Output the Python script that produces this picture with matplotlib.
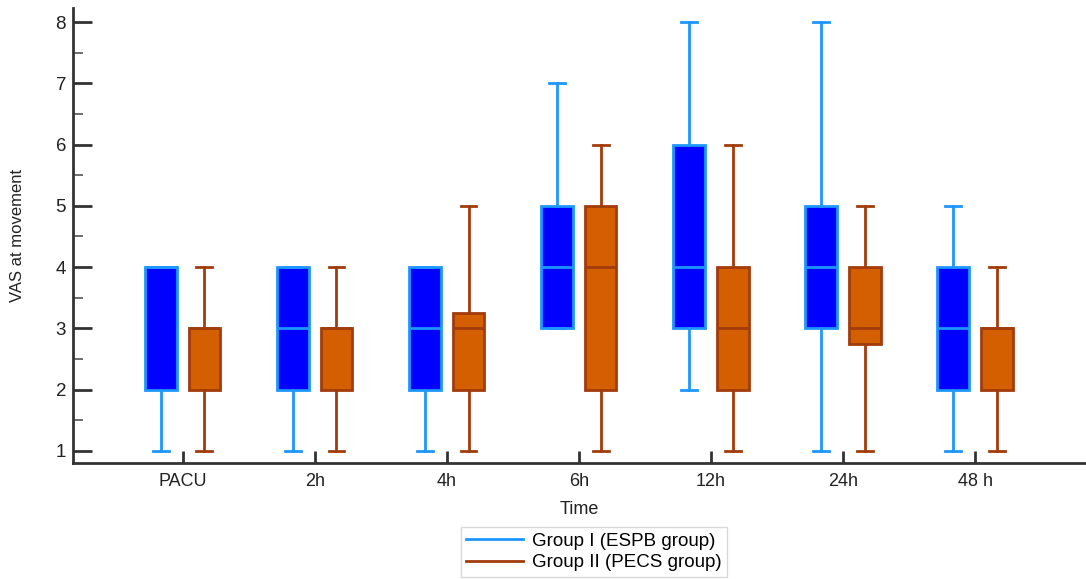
import numpy as np
import matplotlib.pyplot as plt
from matplotlib.lines import Line2D

plt.rcParams['font.family'] = ['Liberation Sans', 'DejaVu Sans']

# ---------- data
times = ['PACU', '2h', '4h', '6h', '12h', '24h', '48 h']

# whislo, q1, median, q3, whishi
espb_low = [1, 1, 1, 3, 2, 1, 1]
espb_q1 = [2, 2, 2, 3, 3, 3, 2]
espb_med = [4, 3, 3, 4, 4, 4, 3]
espb_q3 = [4, 4, 4, 5, 6, 5, 4]
espb_high = [4, 4, 4, 7, 8, 8, 5]

pecs_low = [1, 1, 1, 1, 1, 1, 1]
pecs_q1 = [2, 2, 2, 2, 2, 2.75, 2]
pecs_med = [3, 3, 3, 4, 3, 3, 3]
pecs_q3 = [3, 3, 3.25, 5, 4, 4, 3]
pecs_high = [4, 4, 5, 6, 6, 5, 4]

blue_fill, blue_edge = '#0000ff', '#1e96ff'
org_fill, org_edge = '#d45f00', '#a23c0c'


def make_stats(lo, q1, med, q3, hi):
    return [dict(whislo=a, q1=b, med=c, q3=d, whishi=e, fliers=[])
            for a, b, c, d, e in zip(lo, q1, med, q3, hi)]


fig = plt.figure(figsize=(10.86, 5.79), dpi=100)
ax = fig.add_axes([73 / 1086, 116 / 579, 1 - 73 / 1086, (463 - 8) / 579])

pos = np.arange(len(times))
off = 0.165
w = 0.24

for stats, p, fc, ec in [
        (make_stats(espb_low, espb_q1, espb_med, espb_q3, espb_high), pos - off, blue_fill, blue_edge),
        (make_stats(pecs_low, pecs_q1, pecs_med, pecs_q3, pecs_high), pos + off, org_fill, org_edge)]:
    ax.bxp(stats, positions=p, widths=w, capwidths=w / 2, patch_artist=True,
           showfliers=False, manage_ticks=False,
           boxprops=dict(facecolor=fc, edgecolor=ec, linewidth=2),
           whiskerprops=dict(color=ec, linewidth=2),
           capprops=dict(color=ec, linewidth=2),
           medianprops=dict(color=ec, linewidth=2))

ax.set_xlim(-0.83, 6.84)
ax.set_ylim(0.8, 8.23)

ax.set_xticks(pos)
ax.set_xticklabels(times, fontsize=13)
ax.set_yticks(range(1, 9))
ax.set_yticks(np.arange(1.5, 8, 1), minor=True)
ax.tick_params(axis='y', labelsize=13.5, direction='in', length=14, width=2,
               color='#333333', pad=5)
ax.tick_params(axis='y', which='minor', direction='in', length=7, width=1.2,
               color='#555555')
ax.tick_params(axis='x', direction='in', length=9, width=2, color='#333333',
               pad=7, labelcolor='#222222')
ax.tick_params(axis='y', labelcolor='#222222')

for s in ['top', 'right']:
    ax.spines[s].set_visible(False)
for s in ['left', 'bottom']:
    ax.spines[s].set_linewidth(2)
    ax.spines[s].set_color('#333333')

ax.set_xlabel('Time', fontsize=13, labelpad=8, color='#222222')
ax.set_ylabel('VAS at movement', fontsize=12, labelpad=22, color='#222222')

handles = [Line2D([], [], color=blue_edge, lw=2),
           Line2D([], [], color=org_edge, lw=2)]
fig.legend(handles, ['Group I (ESPB group)', 'Group II (PECS group)'],
           loc='center', bbox_to_anchor=(594 / 1086, 27 / 579), fontsize=13.5,
           frameon=True, fancybox=False, edgecolor='#d0d0d0',
           handlelength=3.0, handletextpad=0.5, labelspacing=0.25,
           borderpad=0.3)

fig.savefig('out.png', dpi=100)
